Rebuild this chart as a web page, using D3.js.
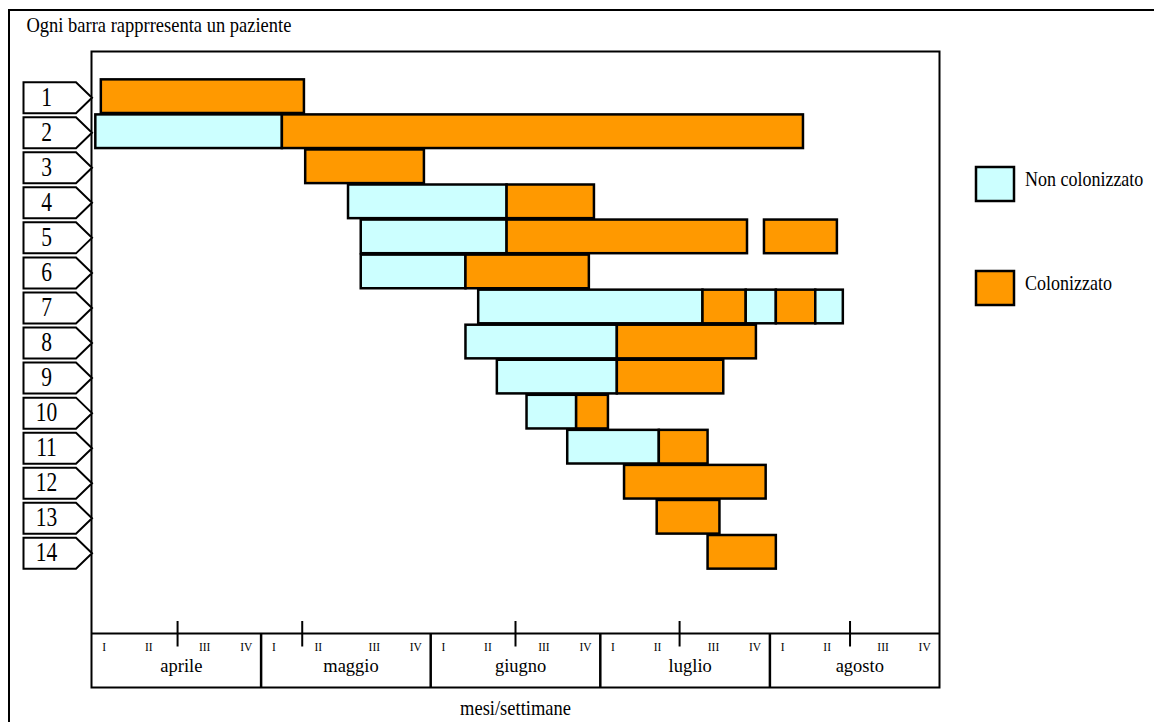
<!DOCTYPE html>
<html><head><meta charset="utf-8">
<script src="https://cdn.jsdelivr.net/npm/d3@7"></script>
<style>
html,body{margin:0;padding:0;background:#fff;}
text{font-family:"Liberation Serif","Times New Roman",serif;fill:#000;}
</style></head>
<body><svg id="c" width="1154" height="722"></svg>
<script>
// ---- data ----
const title = "Ogni barra rapprresenta un paziente";
const xTitle = "mesi/settimane";
const patients = ["1","2","3","4","5","6","7","8","9","10","11","12","13","14"];
const months = ["aprile","maggio","giugno","luglio","agosto"];
const weekLabels = ["I","II","III","IV"];
const weekLabelPos = [0.3, 1.35, 2.67, 3.65];
const markerWeeks = [2.03, 4.97, 10.0, 13.87, 17.89];
const states = ["N","C"];
const stateLabels = ["Non colonizzato","Colonizzato"];
const stateColors = ["#CCFFFF","#FF9900"];
// segments (weeks from 1 April)
const segPatient = ["1","2","2","3","4","4","5","5","5","6","6","7","7","7","7","7","8","8","9","9","10","10","11","11","12","13","14"];
const segStart   = [0.22,0.09,4.49,5.04,6.05,9.79,6.35,9.79,15.86,6.35,8.82,9.12,14.41,15.43,16.14,17.07,8.82,12.39,9.56,12.39,10.26,11.43,11.22,13.38,12.56,13.33,14.53];
const segEnd     = [5.01,4.49,16.78,7.84,9.79,11.85,9.79,15.46,17.58,8.82,11.73,14.41,15.43,16.14,17.07,17.72,12.39,15.67,12.39,14.90,11.43,12.18,13.38,14.53,15.90,14.81,16.14];
const segState   = ["C","N","C","C","N","C","N","C","C","N","C","N","C","N","C","N","N","C","N","C","N","C","N","C","C","C","C"];

const segs = segPatient.map((p,i)=>({p, s:segStart[i], e:segEnd[i], st:segState[i]}));

const svg = d3.select("#c");
const L=91.5, R=939.5, T=51.5, B=687.5, axisTop=633.5;
const nWeeks = months.length*4;
const x = d3.scaleLinear().domain([0,nWeeks]).range([L,R]);
const y = d3.scaleBand().domain(patients).range([79,569]).paddingInner(0.04).paddingOuter(0.01);
const color = d3.scaleOrdinal().domain(states).range(stateColors);

// outer frame
svg.append("rect").attr("x",9).attr("y",10).attr("width",1200).attr("height",800)
  .attr("fill","none").attr("stroke","#000").attr("stroke-width",2);

function txt(g, s, px, py, size, anchor, sy){
  return g.append("text").attr("transform",`translate(${px},${py}) scale(1,${sy||1.15})`)
    .attr("font-size",size).attr("text-anchor",anchor||"start").text(s);
}
txt(svg, title, 26.5, 32, 18.5);

// plot frame
svg.append("rect").attr("x",L).attr("y",T).attr("width",R-L).attr("height",B-T)
  .attr("fill","none").attr("stroke","#000").attr("stroke-width",2);

// axis band
svg.append("line").attr("x1",L).attr("x2",R).attr("y1",axisTop).attr("y2",axisTop)
  .attr("stroke","#000").attr("stroke-width",2);
const mg = svg.append("g");
months.forEach((m,i)=>{
  if(i>0) mg.append("line").attr("x1",x(i*4)).attr("x2",x(i*4)).attr("y1",axisTop).attr("y2",B)
      .attr("stroke","#000").attr("stroke-width",2.5);
  weekLabels.forEach((w,j)=>{
    txt(mg, w, x(i*4+weekLabelPos[j]), 650.5, 11.5, "middle", 1.1);
  });
  txt(mg, m, x(i*4+2.12), 672, 18.5, "middle", 1.05);
});
markerWeeks.forEach(w=>{
  mg.append("line").attr("x1",x(w)).attr("x2",x(w)).attr("y1",621).attr("y2",646.5)
    .attr("stroke","#000").attr("stroke-width",2);
});
txt(svg, xTitle, (L+R)/2, 715, 18.5, "middle");

// patient labels (pentagons)
const lg = svg.append("g");
patients.forEach(p=>{
  const cy = y(p)+y.bandwidth()/2+1.5;
  const h = 31, x0=23.5, x1=76, tip=92;
  lg.append("path").attr("d",`M${x0},${cy-h/2}L${x1},${cy-h/2}L${tip},${cy}L${x1},${cy+h/2}L${x0},${cy+h/2}Z`)
    .attr("fill","#fff").attr("stroke","#000").attr("stroke-width",2);
  txt(lg, p, 46.5, cy+8, 21.5, "middle", 1.25);
});

// bars
svg.append("g").selectAll("rect").data(segs).join("rect")
  .attr("x",d=>x(d.s)).attr("y",d=>y(d.p))
  .attr("width",d=>x(d.e)-x(d.s)).attr("height",y.bandwidth())
  .attr("fill",d=>color(d.st)).attr("stroke","#000").attr("stroke-width",2.5);

// legend
const leg = svg.append("g");
const legY = [184, 288];
states.forEach((s,i)=>{
  leg.append("rect").attr("x",976).attr("y",legY[i]-17).attr("width",38).attr("height",34)
    .attr("fill",color(s)).attr("stroke","#000").attr("stroke-width",2.5);
  txt(leg, stateLabels[i], 1025, legY[i]+2, 18, "start");
});
</script></body></html>
